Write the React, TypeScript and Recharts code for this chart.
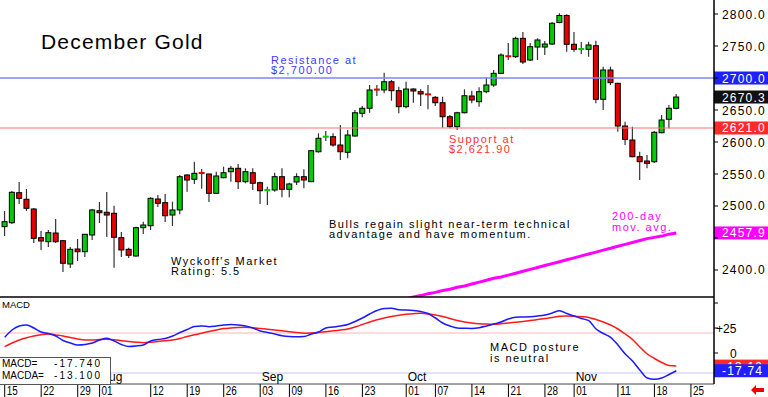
import React from "react";
import { ComposedChart, Bar, Line, XAxis, YAxis, ReferenceLine } from "recharts";

// daily OHLC, Jul 15 .. Nov 21 (trading days)
const opens = [
  2467.7, 2473.9, 2520.8, 2510.5, 2495.3, 2450.5, 2444.2, 2457.8, 2445.8, 2409.4,
  2432.8, 2428.6, 2454.7, 2492.6, 2490.2, 2488.6, 2450.5, 2432.3, 2421.9, 2466.1,
  2469.2, 2510.9, 2505.2, 2485.9, 2493.8, 2548.4, 2541.7, 2551.6, 2550.0, 2519.8,
  2544.2, 2553.6, 2558.9, 2538.0, 2552.0, 2536.4, 2524.0, 2525.0, 2545.8, 2526.1,
  2537.5, 2545.8, 2538.0, 2584.8, 2605.5, 2608.3, 2595.3, 2583.9, 2609.4, 2644.8,
  2652.7, 2681.9, 2681.3, 2694.2, 2680.2, 2655.2, 2682.8, 2678.6, 2674.5, 2669.8,
  2661.4, 2639.5, 2623.9, 2645.7, 2671.9, 2663.0, 2678.6, 2689.1, 2707.3, 2734.0,
  2733.3, 2762.0, 2728.1, 2748.4, 2748.4, 2753.1, 2786.7, 2797.7, 2752.7, 2744.0,
  2744.8, 2750.5, 2666.7, 2712.5, 2691.7, 2625.0, 2603.1, 2577.0, 2570.3, 2569.2,
  2614.5, 2635.5, 2652.7,
];
const highs = [
  2492.2, 2523.5, 2537.5, 2526.6, 2496.9, 2460.9, 2462.5, 2479.7, 2446.9, 2435.9,
  2448.4, 2456.3, 2495.3, 2506.3, 2521.9, 2500.5, 2459.4, 2434.8, 2467.7, 2475.5,
  2513.6, 2517.2, 2518.8, 2506.7, 2548.4, 2550.0, 2569.2, 2557.8, 2550.3, 2553.6,
  2561.4, 2562.5, 2565.6, 2558.9, 2558.9, 2538.0, 2530.2, 2552.0, 2558.9, 2536.3,
  2551.1, 2557.3, 2587.5, 2613.6, 2617.2, 2613.6, 2626.6, 2618.8, 2650.0, 2656.3,
  2689.1, 2689.1, 2708.3, 2696.9, 2686.4, 2694.2, 2683.9, 2682.3, 2689.1, 2671.9,
  2670.8, 2642.2, 2647.3, 2682.3, 2680.2, 2685.5, 2701.1, 2712.5, 2738.6, 2754.7,
  2764.5, 2771.9, 2754.7, 2762.0, 2757.8, 2787.5, 2801.1, 2799.5, 2771.9, 2756.3,
  2756.7, 2758.3, 2717.7, 2717.7, 2692.7, 2631.7, 2623.9, 2584.8, 2579.7, 2617.2,
  2642.2, 2657.8, 2675.0,
];
const lows = [
  2453.1, 2471.9, 2503.1, 2492.2, 2442.2, 2431.3, 2435.9, 2442.2, 2396.9, 2403.1,
  2414.1, 2420.3, 2446.9, 2473.4, 2451.6, 2403.6, 2420.3, 2418.8, 2420.8, 2456.3,
  2462.5, 2498.4, 2475.0, 2468.8, 2487.0, 2522.3, 2534.4, 2527.0, 2506.3, 2519.0,
  2543.3, 2538.0, 2526.6, 2535.5, 2525.0, 2503.1, 2501.6, 2522.3, 2513.6, 2513.6,
  2532.8, 2527.7, 2537.5, 2583.3, 2601.6, 2592.7, 2571.9, 2574.5, 2608.3, 2638.6,
  2645.7, 2671.9, 2676.1, 2664.5, 2644.8, 2652.7, 2661.4, 2656.3, 2651.1, 2656.3,
  2622.3, 2621.4, 2618.8, 2644.8, 2660.5, 2655.2, 2676.1, 2686.4, 2706.3, 2728.1,
  2731.3, 2721.9, 2726.6, 2728.1, 2735.9, 2751.6, 2785.5, 2741.1, 2741.1, 2737.5,
  2733.3, 2660.5, 2650.0, 2689.1, 2616.1, 2595.3, 2576.0, 2540.6, 2558.9, 2567.2,
  2613.6, 2621.4, 2651.1,
];
const closes = [
  2475.5, 2521.4, 2512.0, 2496.4, 2449.5, 2445.3, 2458.3, 2444.2, 2410.5, 2432.3,
  2428.6, 2455.8, 2493.8, 2489.5, 2485.9, 2451.1, 2431.3, 2423.0, 2466.1, 2470.3,
  2512.0, 2504.2, 2484.8, 2493.8, 2545.8, 2540.6, 2551.1, 2550.6, 2519.8, 2546.9,
  2552.0, 2558.9, 2538.0, 2553.6, 2535.5, 2523.9, 2525.0, 2545.8, 2526.1, 2534.4,
  2545.8, 2540.6, 2586.4, 2605.8, 2608.3, 2595.3, 2584.8, 2610.9, 2645.7, 2652.7,
  2681.3, 2680.6, 2694.2, 2680.2, 2655.2, 2682.8, 2679.7, 2675.0, 2673.4, 2661.4,
  2639.5, 2623.9, 2645.7, 2672.3, 2665.6, 2678.6, 2689.1, 2707.3, 2735.9, 2732.5,
  2762.0, 2725.0, 2748.9, 2759.4, 2753.1, 2785.5, 2797.7, 2752.7, 2744.8, 2745.3,
  2751.6, 2666.7, 2712.5, 2692.7, 2625.0, 2604.2, 2577.0, 2569.2, 2566.7, 2615.2,
  2634.4, 2652.7, 2670.3,
];
// 200-day moving average (only the visible tail)
const ma200 = [
  null, null, null, null, null, null, null, null, null, null,
  null, null, null, null, null, null, null, null, null, null,
  null, null, null, null, null, null, null, null, null, null,
  null, null, null, null, null, null, null, null, null, null,
  null, null, null, null, null, null, null, null, null, null,
  null, null, null, 2350, 2353, 2355, 2358, 2360, 2363, 2365,
  2368, 2370, 2373, 2375, 2378, 2381, 2384, 2387, 2389, 2392,
  2395, 2398, 2401, 2404, 2407, 2410, 2413, 2416, 2419, 2422,
  2425, 2428, 2431, 2434, 2437, 2440, 2443, 2446, 2449, 2451,
  2453, 2456, 2457.9,
];
const macd = [
  15.7, 23, 27, 28, 25, 21, 19.5, 17, 12.5, 10,
  8, 8.5, 10, 13, 14.7, 12, 8.5, 6.5, 7, 8,
  12, 13.5, 14.5, 17, 20.5, 23.5, 26.5, 27, 26.3, 27,
  28, 28.5, 28, 27, 25, 22, 20.5, 19, 17.3, 16.5,
  16.3, 16.5, 19, 21, 25, 26, 27, 28.5, 31.5, 35,
  39, 42.5, 44.5, 44.7, 43.2, 43, 42.5, 41.5, 39.5, 35,
  30, 27, 25, 24.7, 24.5, 25.3, 27, 29, 31, 34,
  35.7, 36, 36.3, 37, 38, 40, 42.3, 39.5, 37, 34.5,
  32.3, 24, 19.5, 15.7, 8, -1, -8, -17, -25, -26.3,
  -25, -21.5, -17.74,
];
const macdAvg = [
  6.3, 10, 13, 15.3, 17, 18.3, 19, 18, 17, 15.5,
  14, 13, 13, 13.5, 13.7, 13.2, 12.3, 11.5, 10.8, 10.3,
  10.8, 11.5, 12.3, 13, 14.5, 16.5, 18.3, 19.8, 21.5, 23,
  24.5, 25, 25.5, 25.7, 25.3, 24.5, 23.8, 23, 22.2, 21.3,
  20.5, 19.8, 20, 20.5, 21.2, 22.2, 23, 24, 26, 28.5,
  31, 33.2, 35, 36.5, 37.8, 38.7, 39.3, 39.7, 39, 38,
  36.5, 34.5, 32.5, 31, 30, 29.3, 28.9, 28.7, 29.2, 30,
  30.8, 31.6, 32.5, 33.5, 34.5, 35.5, 36.8, 37, 36.8, 36.3,
  35.5, 33.5, 31, 28, 24, 19, 13.5, 6, -1, -5.5,
  -9.5, -12.5, -13.1,
];

const dayTicks = [0, 5, 10, 13, 20, 25, 30, 35, 39, 44, 49, 55, 59, 64, 69, 74, 78, 84, 89, 94];
const dayLabels = ["15", "22", "29", "01", "12", "19", "26", "03", "09", "16", "23", "01", "07", "14", "21", "28", "01", "11", "18", "25"];
const monthStarts = [13, 35, 55, 78];
const monthNames = ["Aug", "Sep", "Oct", "Nov"];
const priceTicks = [2400, 2450, 2500, 2550, 2600, 2650, 2700, 2750, 2800];
const hiddenPriceLabels = [2450, 2700]; // covered by the value boxes
const minorTicks = [2375, 2400, 2425, 2450, 2475, 2500, 2525, 2550, 2575, 2600, 2625, 2650, 2675, 2700, 2725, 2750, 2775, 2800];

const RESISTANCE = 2700;
const SUPPORT = 2621.9;
const LAST = 2670.3;
const MA_LAST = 2457.9;

const X_DOMAIN: [number, number] = [-0.644, 97.16];
const P_DOMAIN: [number, number] = [2357.8, 2821.9];
const M_DOMAIN: [number, number] = [-31, 56];

const GREEN = "#00cc00";
const RED = "#e60000";
const SANS = "'Liberation Sans', Arial, sans-serif";

const rows = opens.map((o, i) => ({
  i,
  open: o,
  high: highs[i],
  low: lows[i],
  close: closes[i],
  ma: ma200[i],
  macd: macd[i],
  avg: macdAvg[i],
}));

const Candle = (props: any) => {
  const { x, y, width, height, payload } = props;
  if (x == null || y == null || !payload) return null;
  const top = Math.min(y, y + height);
  const bottom = Math.max(y, y + height);
  const span = payload.high - payload.low;
  const toY = (v: number) =>
    span === 0 ? top : top + ((payload.high - v) / span) * (bottom - top);
  const cx = x + width / 2;
  const yo = toY(payload.open);
  const yc = toY(payload.close);
  const fill = payload.close >= payload.open ? GREEN : RED;
  const bt = Math.min(yo, yc);
  const bh = Math.abs(yo - yc);
  return (
    <g>
      <line x1={cx} x2={cx} y1={top} y2={bottom} stroke="#333" strokeWidth={1.2} />
      {bh < 1.8 ? (
        <rect x={cx - 3} y={bt - 1} width={6} height={2} fill={fill} />
      ) : (
        <rect x={cx - 2.5} y={bt} width={5} height={bh} fill={fill} stroke="#000" strokeWidth={1} />
      )}
    </g>
  );
};

const PriceTick = (props: any) => {
  const { x, y, payload } = props;
  if (hiddenPriceLabels.includes(payload.value)) return <g />;
  return (
    <text x={x + 4} y={y + 4.5} fontSize={12} fontFamily={SANS} letterSpacing={1.2} fill="#000">
      {Number(payload.value).toFixed(1)}
    </text>
  );
};

const MacdTick = (props: any) => {
  const { x, y, payload } = props;
  if (payload.value === 25)
    return (
      <text x={x - 2} y={y + 4.5} fontSize={12} fontFamily={SANS} fill="#000">
        +25
      </text>
    );
  if (payload.value === 0)
    return (
      <text x={x + 12} y={y + 4.5} fontSize={12} fontFamily={SANS} fill="#000">
        0
      </text>
    );
  return <g />;
};

const EmptyTick = () => <g />;

const DayTick = (props: any) => {
  const { x, y, payload } = props;
  const k = dayTicks.indexOf(payload.value);
  const m = monthStarts.indexOf(payload.value);
  return (
    <g>
      <line x1={x} x2={x} y1={y} y2={y + 13} stroke="#000" strokeWidth={1} />
      <text
        x={x + 2}
        y={y + 11}
        fontSize={12.5}
        fontFamily={SANS}
        textLength={11}
        lengthAdjust="spacingAndGlyphs"
        fill="#000"
      >
        {dayLabels[k]}
      </text>
      {m >= 0 && (
        <text x={x + 1.5} y={y - 3} fontSize={12} fontFamily={SANS} fill="#000">
          {monthNames[m]}
        </text>
      )}
    </g>
  );
};

const boxLabel = (text: string, bg: string) => (props: any) => {
  const vb = props.viewBox;
  if (!vb) return null;
  const x = vb.x + vb.width;
  const y = vb.y;
  return (
    <g>
      <rect x={x} y={y - 6.5} width={54} height={13} fill={bg} />
      <text x={x + 8} y={y + 4.5} fontSize={12} fontFamily={SANS} letterSpacing={1.2} fill="#fff">
        {text}
      </text>
    </g>
  );
};

const note = (
  left: number,
  top: number,
  color: string,
  lines: string[],
  size = 11,
  lh = 10.5,
  ls = 1.5
) => (
  <div
    style={{
      position: "absolute",
      left,
      top,
      color,
      fontFamily: SANS,
      fontSize: size,
      lineHeight: `${lh}px`,
      letterSpacing: ls,
      whiteSpace: "pre",
      zIndex: 2,
    }}
  >
    {lines.map((t, k) => (
      <div key={k}>{t}</div>
    ))}
  </div>
);

export default function App() {
  return (
    <div
      style={{
        position: "absolute",
        left: 0,
        top: 0,
        width: 768,
        height: 397,
        background: "#fff",
        overflow: "hidden",
      }}
    >
      <div style={{ position: "absolute", left: 0, top: 0 }}>
        <ComposedChart width={768} height={298} data={rows} margin={{ top: 0, right: 0, bottom: 0, left: 0 }}>
          <XAxis
            dataKey="i"
            type="number"
            domain={X_DOMAIN}
            allowDataOverflow
            height={1}
            tick={false}
            tickLine={false}
            axisLine={{ stroke: "#000", strokeWidth: 1.5 }}
          />
          <YAxis
            yAxisId="l"
            orientation="left"
            width={0}
            mirror
            domain={P_DOMAIN}
            allowDataOverflow
            ticks={minorTicks}
            tickSize={3}
            axisLine={false}
            tickLine={{ stroke: "#555" }}
            tick={<EmptyTick />}
          />
          <YAxis
            yAxisId="p"
            orientation="right"
            width={54}
            domain={P_DOMAIN}
            allowDataOverflow
            ticks={priceTicks}
            interval={0}
            tickSize={4}
            tickMargin={0}
            axisLine={{ stroke: "#000", strokeWidth: 1.5 }}
            tickLine={{ stroke: "#000" }}
            tick={<PriceTick />}
          />
          <ReferenceLine yAxisId="p" y={RESISTANCE} stroke="#8080ff" strokeWidth={1.5} label={boxLabel("2700.0", "#1f1fff")} />
          <ReferenceLine yAxisId="p" y={SUPPORT} stroke="#ff7070" strokeWidth={1.2} label={boxLabel("2621.0", "#ff2a2a")} />
          <ReferenceLine yAxisId="p" y={MA_LAST} stroke="none" label={boxLabel("2457.9", "#ff00ff")} />
          <ReferenceLine yAxisId="p" y={LAST} stroke="none" label={boxLabel("2670.3", "#111")} />
          <Line
            yAxisId="p"
            dataKey="ma"
            type="linear"
            stroke="#ff00ff"
            strokeWidth={3}
            dot={false}
            activeDot={false}
            connectNulls={false}
            isAnimationActive={false}
          />
          <Bar
            yAxisId="p"
            dataKey={(d: any) => [d.low, d.high]}
            barSize={7}
            shape={<Candle />}
            isAnimationActive={false}
          />
        </ComposedChart>
      </div>

      <div style={{ position: "absolute", left: 0, top: 297 }}>
        <ComposedChart width={768} height={100} data={rows} margin={{ top: 0, right: 0, bottom: 0, left: 0 }}>
          <XAxis
            dataKey="i"
            type="number"
            domain={X_DOMAIN}
            allowDataOverflow
            ticks={dayTicks}
            interval={0}
            height={13}
            tickSize={0}
            tickMargin={0}
            tickLine={false}
            axisLine={{ stroke: "#444" }}
            tick={<DayTick />}
          />
          <YAxis
            yAxisId="l"
            orientation="left"
            width={0}
            mirror
            domain={M_DOMAIN}
            allowDataOverflow
            ticks={[0, 25]}
            tickSize={3}
            axisLine={false}
            tickLine={{ stroke: "#555" }}
            tick={<EmptyTick />}
          />
          <YAxis
            yAxisId="m"
            orientation="right"
            width={54}
            domain={M_DOMAIN}
            allowDataOverflow
            ticks={[0, 25, 50]}
            interval={0}
            tickSize={4}
            tickMargin={0}
            axisLine={{ stroke: "#000", strokeWidth: 1.5 }}
            tickLine={{ stroke: "#000" }}
            tick={<MacdTick />}
          />
          <ReferenceLine yAxisId="m" y={20} stroke="#ffb4b4" strokeWidth={1} />
          <ReferenceLine yAxisId="m" y={-20} stroke="#c4c4ff" strokeWidth={1} />
          <Line yAxisId="m" dataKey="avg" type="monotone" stroke="#ff1a1a" strokeWidth={1.5} dot={false} activeDot={false} isAnimationActive={false} />
          <Line yAxisId="m" dataKey="macd" type="monotone" stroke="#1a1aff" strokeWidth={1.5} dot={false} activeDot={false} isAnimationActive={false} />
          <ReferenceLine yAxisId="m" y={-13.1} stroke="none" label={boxLabel("-13.10", "#ff2a2a")} />
          <ReferenceLine yAxisId="m" y={-17.74} stroke="none" label={boxLabel("-17.74", "#1f1fff")} />
        </ComposedChart>
      </div>

      <div
        style={{
          position: "absolute",
          left: 41,
          top: 31,
          fontFamily: SANS,
          fontSize: 21,
          lineHeight: "22px",
          letterSpacing: 1.2,
          color: "#000",
          whiteSpace: "pre",
          zIndex: 2,
        }}
      >
        December Gold
      </div>
      {note(271, 54.5, "#3b3bff", ["Resistance at", "$2,700.00"])}
      {note(449, 133.5, "#ff3030", ["Support at", "$2,621.90"])}
      {note(329, 218.5, "#000", ["Bulls regain slight near-term technical", "advantage and have momentum."])}
      {note(171, 255.5, "#000", ["Wyckoff's Market", "Rating: 5.5"])}
      {note(612, 210.5, "#ff00ff", ["200-day", "mov. avg."], 11, 11)}
      {note(490, 341.8, "#000", ["MACD posture", "is neutral"], 11, 10.7)}
      {note(2, 299.5, "#000", ["MACD"], 9.5, 10, 0)}

      <div
        style={{
          position: "absolute",
          left: -1,
          top: 357,
          width: 110,
          height: 26,
          background: "#fff",
          border: "1px solid #555",
          fontFamily: SANS,
          fontSize: 10,
          lineHeight: "12px",
          color: "#000",
          zIndex: 3,
        }}
      >
        <div style={{ position: "absolute", left: 2, top: 0 }}>MACD=</div>
        <div style={{ position: "absolute", right: 8, top: 0, letterSpacing: 2 }}>-17.740</div>
        <div style={{ position: "absolute", left: 2, top: 12 }}>MACDA=</div>
        <div style={{ position: "absolute", right: 8, top: 12, letterSpacing: 2 }}>-13.100</div>
      </div>

      <svg style={{ position: "absolute", left: 751, top: 385, zIndex: 2 }} width={14} height={10}>
        <polygon points="0,5 5,0 5,3 13,3 13,7 5,7 5,10" fill="#ee0000" />
      </svg>
    </div>
  );
}
